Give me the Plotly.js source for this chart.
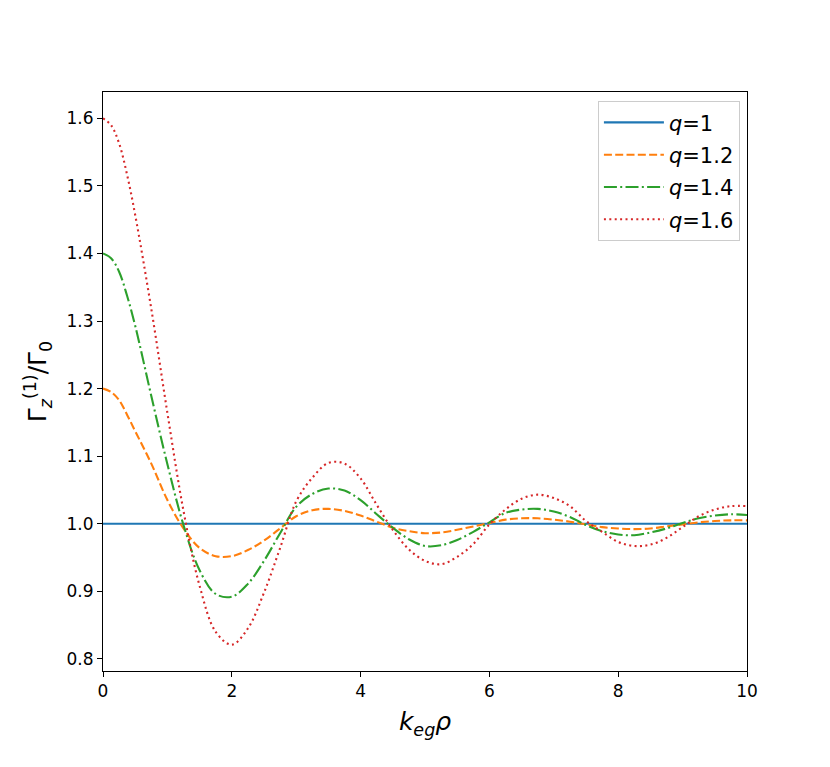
<!DOCTYPE html>
<html>
<head>
<meta charset="utf-8">
<script src="https://cdn.plot.ly/plotly-3.0.1.min.js"></script>
<style>html,body{margin:0;padding:0;background:#fff;}#chart{width:830px;height:767px;}</style>
</head>
<body>
<div id="chart"></div>
<script>
const xVals = [0,0.125,0.25,0.375,0.5,0.75,1,1.25,1.5,1.75,2,2.25,2.5,2.75,3,3.25,3.5,3.75,4,4.25,4.5,4.75,5,5.25,5.5,5.75,6,6.25,6.5,6.75,7,7.25,7.5,7.75,8,8.25,8.5,8.75,9,9.25,9.5,9.75,10];
const q10 = [1,1,1,1,1,1,1,1,1,1,1,1,1,1,1,1,1,1,1,1,1,1,1,1,1,1,1,1,1,1,1,1,1,1,1,1,1,1,1,1,1,1,1];
const q12 = [1.200,1.195,1.183,1.161,1.137,1.089,1.035,0.993,0.964,0.952,0.952,0.961,0.975,0.993,1.011,1.020,1.022,1.019,1.012,1.003,0.994,0.989,0.986,0.987,0.991,0.996,1.001,1.006,1.008,1.008,1.006,1.003,0.999,0.995,0.993,0.992,0.993,0.996,0.999,1.002,1.004,1.005,1.005];
const q14 = [1.400,1.393,1.373,1.337,1.293,1.189,1.088,0.998,0.931,0.896,0.892,0.911,0.945,0.986,1.025,1.044,1.052,1.049,1.035,1.014,0.994,0.977,0.967,0.968,0.976,0.988,1.002,1.016,1.021,1.022,1.018,1.010,0.998,0.989,0.984,0.983,0.987,0.993,1.001,1.008,1.012,1.014,1.013];
const q16 = [1.600,1.590,1.563,1.516,1.457,1.318,1.164,1.019,0.908,0.840,0.821,0.845,0.898,0.964,1.033,1.068,1.090,1.089,1.067,1.028,0.991,0.962,0.945,0.940,0.951,0.970,0.999,1.021,1.037,1.043,1.038,1.026,1.004,0.988,0.973,0.967,0.969,0.979,0.995,1.011,1.021,1.026,1.026];
const seriesNames = ['<i>q</i>=1','<i>q</i>=1.2','<i>q</i>=1.4','<i>q</i>=1.6'];
const xTicks = [0,2,4,6,8,10];
const yTicks = [0.8,0.9,1.0,1.1,1.2,1.3,1.4,1.5,1.6];

const colors = ['#1f77b4','#ff7f0e','#2ca02c','#d62728'];
const dashes = ['solid','8px,3.3px','13px,3.3px,2px,3.3px','2px,3.4px'];
const ys = [q10,q12,q14,q16];
const traces = ys.map((y,i)=>({
  x: xVals, y: y, name: seriesNames[i], type:'scatter', mode:'lines', legendgroup:'g'+i,
  line:{color:colors[i], width:2.1, dash:dashes[i], shape:'spline', smoothing:1}
}));

const font = {family:'DejaVu Sans, sans-serif', color:'#000'};
const layout = {
  width:830, height:767,
  margin:{l:103, r:83, t:92, b:96},
  paper_bgcolor:'#fff', plot_bgcolor:'#fff',
  font:Object.assign({size:17}, font),
  showlegend:true,
  legend:{x:0.989, y:0.984, xanchor:'right', yanchor:'top', bgcolor:'#fff', bordercolor:'#cccccc', borderwidth:1,
    font:{size:21, family:font.family, color:'#000'}, tracegroupgap:2, itemwidth:60},
  xaxis:{range:[0,10], tickvals:xTicks, ticktext:xTicks.map(String), ticks:'outside', ticklen:5, tickwidth:1, tickcolor:'#000',
    showline:true, linecolor:'#000', linewidth:1, mirror:true, showgrid:false, zeroline:false,
    tickfont:{size:17, family:font.family, color:'#000'},
    title:{text:'<i>k</i><sub><i>eg</i></sub><i>ρ</i>', font:{size:25, family:font.family, color:'#000'}, standoff:12}},
  yaxis:{range:[0.782,1.639], tickvals:yTicks, ticktext:yTicks.map(v=>v.toFixed(1)), ticks:'outside', ticklen:5, tickwidth:1, tickcolor:'#000',
    showline:true, linecolor:'#000', linewidth:1, mirror:true, showgrid:false, zeroline:false,
    tickfont:{size:17, family:font.family, color:'#000'},
    title:{text:'Γ<sub><i>z</i></sub><sup>(1)</sup>/Γ<sub>0</sub>', font:{size:25, family:font.family, color:'#000'}, standoff:12}}
};
Plotly.newPlot('chart', traces, layout, {displayModeBar:false, staticPlot:true});
</script>
</body>
</html>
